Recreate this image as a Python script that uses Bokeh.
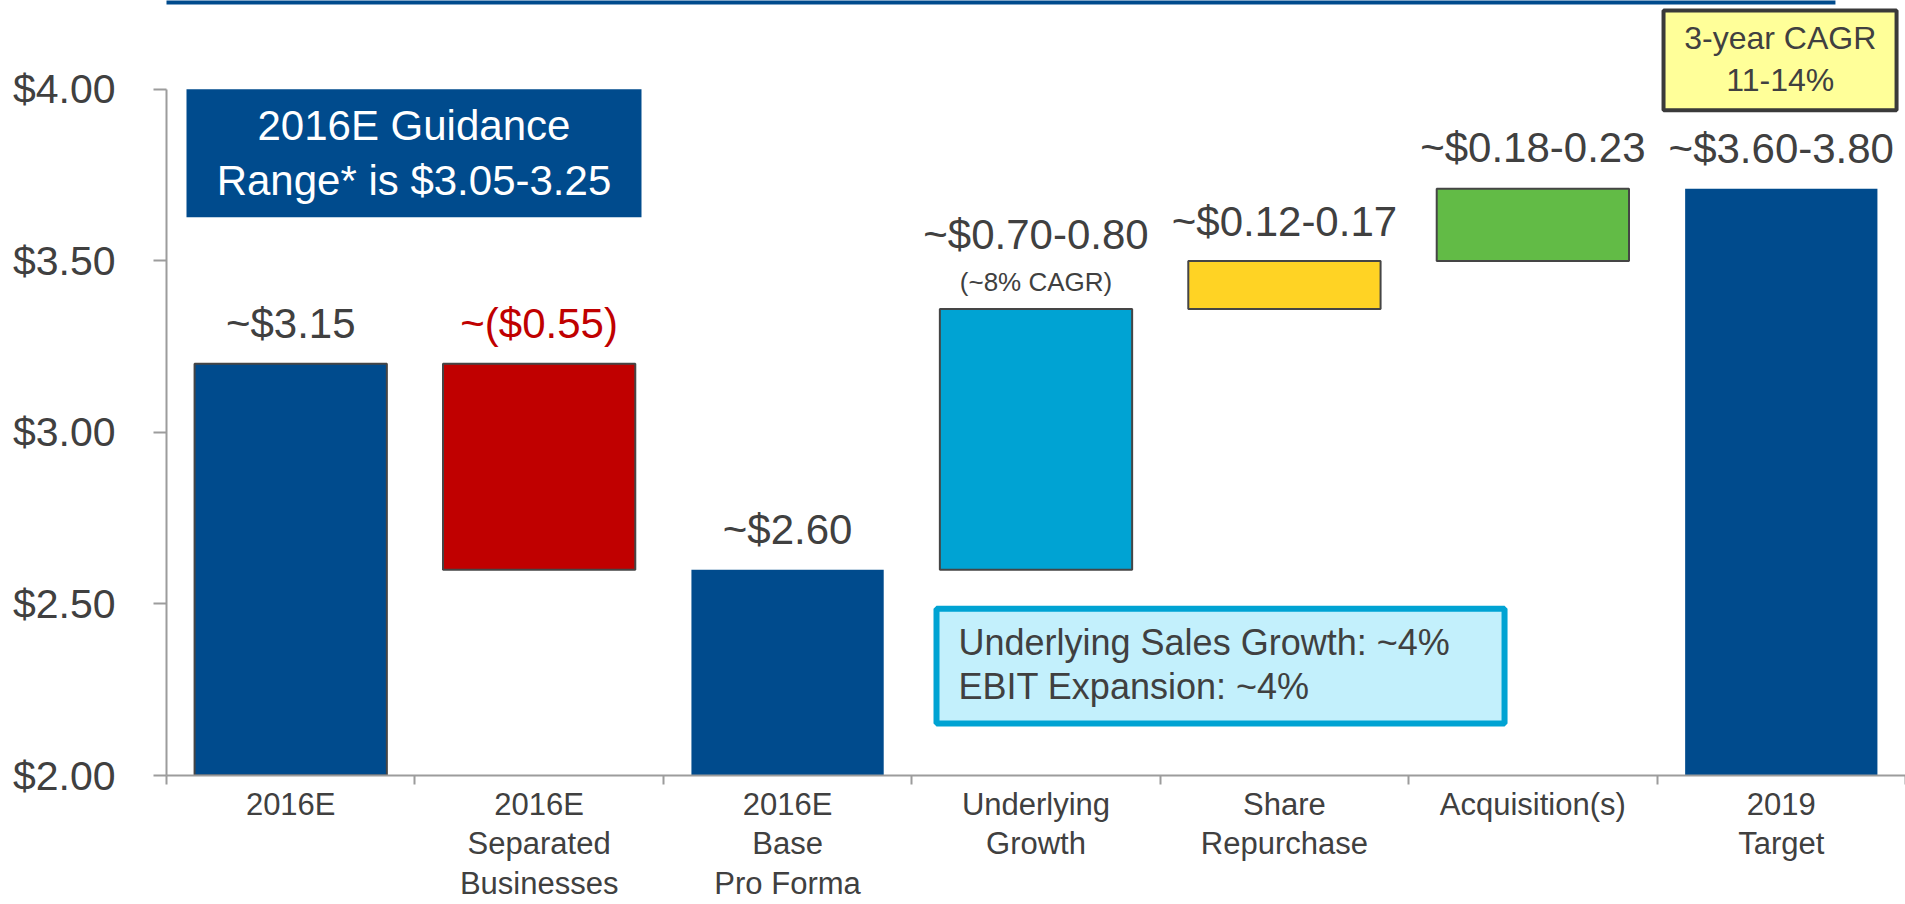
from bokeh.plotting import figure
from bokeh.models import (ColumnDataSource, Range1d, FixedTicker, NumeralTickFormatter,
                          BoxAnnotation, Label)
from bokeh.core.properties import value
from bokeh.embed import file_html
from bokeh.resources import INLINE

# ---------------- data ----------------
categories = ["2016E", "2016E\nSeparated\nBusinesses", "2016E\nBase\nPro Forma",
              "Underlying\nGrowth", "Share\nRepurchase", "Acquisition(s)", "2019\nTarget"]
bar_bottom = [2.00, 2.60, 2.00, 2.60, 3.36, 3.50, 2.00]
bar_top = [3.20, 3.20, 2.60, 3.36, 3.50, 3.71, 3.71]
value_labels = ["~$3.15", "~($0.55)", "~$2.60", "~$0.70-0.80", "~$0.12-0.17",
                "~$0.18-0.23", "~$3.60-3.80"]
sub_label = "(~8% CAGR)"
y_ticks = [2.0, 2.5, 3.0, 3.5, 4.0]
guidance_lines = ["2016E Guidance", "Range* is $3.05-3.25"]
cagr_lines = ["3-year CAGR", "11-14%"]
growth_lines = ["Underlying Sales Growth: ~4%", "EBIT Expansion: ~4%"]

# ---------------- styles ----------------
FONT = "Liberation Sans"
TXT = "#404040"
AXIS = "#9c9c9c"
BLUE = "#004B8D"
bar_colors = [BLUE, "#C00000", BLUE, "#00A3D3", "#FFD324", "#62BB46", BLUE]
bar_line_alpha = [1, 1, 0, 1, 1, 1, 0]
label_colors = [TXT, "#C00000", TXT, TXT, TXT, TXT, TXT]
label_offsets = [-40, -40, -40, -74, -39, -41, -40]

W, H = 1905, 904
p = figure(width=W, height=H, output_backend="svg", toolbar_location=None,
           x_range=Range1d(0, 7), y_range=Range1d(2.0, 4.259),
           min_border_left=166, min_border_right=0, min_border_top=0,
           min_border_bottom=128, background_fill_color="white",
           border_fill_color="white")
p.outline_line_color = None
p.grid.visible = False

# top rule
p.add_layout(BoxAnnotation(left=-1, right=6.718, bottom=4.247, top=4.30,
                           fill_color=BLUE, fill_alpha=1, line_color=None, level="underlay"))

# bars
xs = [i + 0.5 for i in range(len(categories))]
src = ColumnDataSource(dict(x=xs, bottom=bar_bottom, top=bar_top, color=bar_colors,
                            la=bar_line_alpha, label=value_labels, lc=label_colors,
                            yo=label_offsets))
p.vbar(x="x", width=0.774, bottom="bottom", top="top", source=src,
       fill_color="color", line_color="#454545", line_width=2, line_alpha="la")
p.text(x="x", y="top", text="label", source=src, text_color="lc",
       text_font=value(FONT), text_font_size=value("42px"),
       text_align="center", text_baseline="middle", y_offset="yo")
p.text(x=[xs[3]], y=[bar_top[3]], text=[sub_label], text_color=TXT,
       text_font=value(FONT), text_font_size=value("26px"),
       text_align="center", text_baseline="middle", y_offset=-27)

# guidance box
p.add_layout(BoxAnnotation(left=0.0805, right=1.912, bottom=3.627, top=4.000,
                           fill_color=BLUE, fill_alpha=1, line_color=None))
for t, yy in zip(guidance_lines, [3.895, 3.735]):
    p.add_layout(Label(x=0.996, y=yy, text=t, text_color="white", text_font=FONT,
                       text_font_size="42px", text_align="center", text_baseline="middle"))

# CAGR box
p.add_layout(BoxAnnotation(left=6.026, right=6.964, bottom=3.939, top=4.230,
                           fill_color="#FFFF99", fill_alpha=1, line_color="#3a3a3a",
                           line_alpha=1, line_width=4))
for t, yy in zip(cagr_lines, [4.1485, 4.026]):
    p.add_layout(Label(x=6.496, y=yy, text=t, text_color=TXT, text_font=FONT,
                       text_font_size="32px", text_align="center", text_baseline="middle"))

# growth box
p.add_layout(BoxAnnotation(left=3.0995, right=5.386, bottom=2.1514, top=2.4862,
                           fill_color="#C3F0FC", fill_alpha=1, line_color="#00A3D3",
                           line_alpha=1, line_width=6))
for t, yy in zip(growth_lines, [2.387, 2.259]):
    p.add_layout(Label(x=3.188, y=yy, text=t, text_color=TXT, text_font=FONT,
                       text_font_size="36px", text_align="left", text_baseline="middle"))

# y axis
ya = p.yaxis[0]
ya.ticker = FixedTicker(ticks=y_ticks)
ya.formatter = NumeralTickFormatter(format="$0.00")
ya.bounds = (2.0, 4.0)
ya.axis_line_color = AXIS
ya.axis_line_width = 2
ya.major_tick_line_color = AXIS
ya.major_tick_line_width = 2
ya.major_tick_out = 13
ya.major_tick_in = 0
ya.minor_tick_line_color = None
ya.major_label_standoff = 38
ya.major_label_text_font = FONT
ya.major_label_text_font_size = "41px"
ya.major_label_text_color = TXT

# x axis
xa = p.xaxis[0]
xa.ticker = FixedTicker(ticks=xs, minor_ticks=list(range(len(categories) + 1)))
xa.major_label_overrides = {x: c for x, c in zip(xs, categories)}
xa.axis_line_color = AXIS
xa.axis_line_width = 2
xa.major_tick_line_color = None
xa.major_tick_out = 0
xa.major_tick_in = 0
xa.minor_tick_line_color = AXIS
xa.minor_tick_line_width = 2
xa.minor_tick_out = 9
xa.minor_tick_in = 0
xa.major_label_standoff = 2
xa.major_label_text_font = FONT
xa.major_label_text_font_size = "31px"
xa.major_label_text_line_height = 1.14
xa.major_label_text_color = TXT

open("out.html", "w").write(file_html(p, INLINE))
